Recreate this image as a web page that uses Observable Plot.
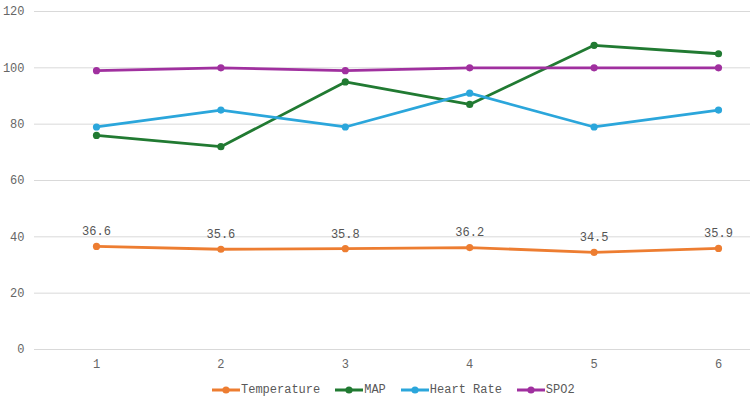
<!DOCTYPE html>
<html>
<head>
<meta charset="utf-8">
<script src="https://cdn.jsdelivr.net/npm/d3@7"></script>
<script src="https://cdn.jsdelivr.net/npm/@observablehq/plot@0.6"></script>
<style>
  html, body { margin: 0; padding: 0; background: #fff; }
  #chart { width: 750px; }
  .legend { display: flex; justify-content: flex-start; align-items: center; gap: 15px;
            font: 12px "Liberation Mono", "DejaVu Sans Mono", monospace; color: #595959;
            height: 22px; padding-left: 212px; margin-top: 1px; }
  .legend .item { display: flex; align-items: center; }
  .legend svg { margin-right: 1px; }
</style>
</head>
<body>
<div id="chart"></div>
<script>
// Vital signs over six readings
const readings = [1, 2, 3, 4, 5, 6];
const temperature = [36.6, 35.6, 35.8, 36.2, 34.5, 35.9];
const map = [76, 72, 95, 87, 108, 105];
const heartRate = [79, 85, 79, 91, 79, 85];
const spo2 = [99, 100, 99, 100, 100, 100];
const yTicks = [0, 20, 40, 60, 80, 100, 120];

const seriesNames = ["Temperature", "MAP", "Heart Rate", "SPO2"];
const seriesValues = [temperature, map, heartRate, spo2];
const seriesColors = ["#ED7D31", "#217A32", "#2BA6DB", "#A0309F"];

const rows = seriesNames.flatMap((name, i) =>
  readings.map((r, j) => ({series: name, reading: r, value: seriesValues[i][j]})));
const tempRows = rows.filter(d => d.series === "Temperature");

const font = '"Liberation Mono", "DejaVu Sans Mono", monospace';

const chart = Plot.plot({
  width: 750,
  height: 378,
  marginLeft: 34,
  marginRight: 0,
  marginTop: 11,
  marginBottom: 29,
  style: {fontFamily: font, fontSize: "12px", color: "#595959", background: "#fff"},
  x: {domain: [0.5, 6.5], range: [33.8, 780.2]},
  y: {domain: [0, 120]},
  color: {domain: seriesNames, range: seriesColors},
  marks: [
    Plot.gridY(yTicks, {stroke: "#d9d9d9", strokeOpacity: 1, strokeWidth: 1}),
    Plot.axisY(yTicks, {tickSize: 0, tickPadding: 10, label: null, fill: "#666666"}),
    Plot.axisX(readings, {tickSize: 0, tickPadding: 10, label: null, fill: "#666666", tickFormat: d => String(d)}),
    Plot.line(rows, {x: "reading", y: "value", z: "series", stroke: "series", strokeWidth: 2.8}),
    Plot.dot(rows, {x: "reading", y: "value", fill: "series", r: 3.6}),
    Plot.text(tempRows, {x: "reading", y: "value", text: d => d.value.toFixed(1), dy: -15, fill: "#555555", fontSize: 12})
  ]
});
document.getElementById("chart").appendChild(chart);

// Legend row under the plot
const legend = document.createElement("div");
legend.className = "legend";
seriesNames.forEach((name, i) => {
  const item = document.createElement("div");
  item.className = "item";
  item.innerHTML = `<svg width="28" height="10"><line x1="0" x2="28" y1="5" y2="5" stroke="${seriesColors[i]}" stroke-width="3"/><circle cx="14" cy="5" r="3.6" fill="${seriesColors[i]}"/></svg><span>${name}</span>`;
  legend.appendChild(item);
});
document.body.appendChild(legend);
</script>
</body>
</html>
